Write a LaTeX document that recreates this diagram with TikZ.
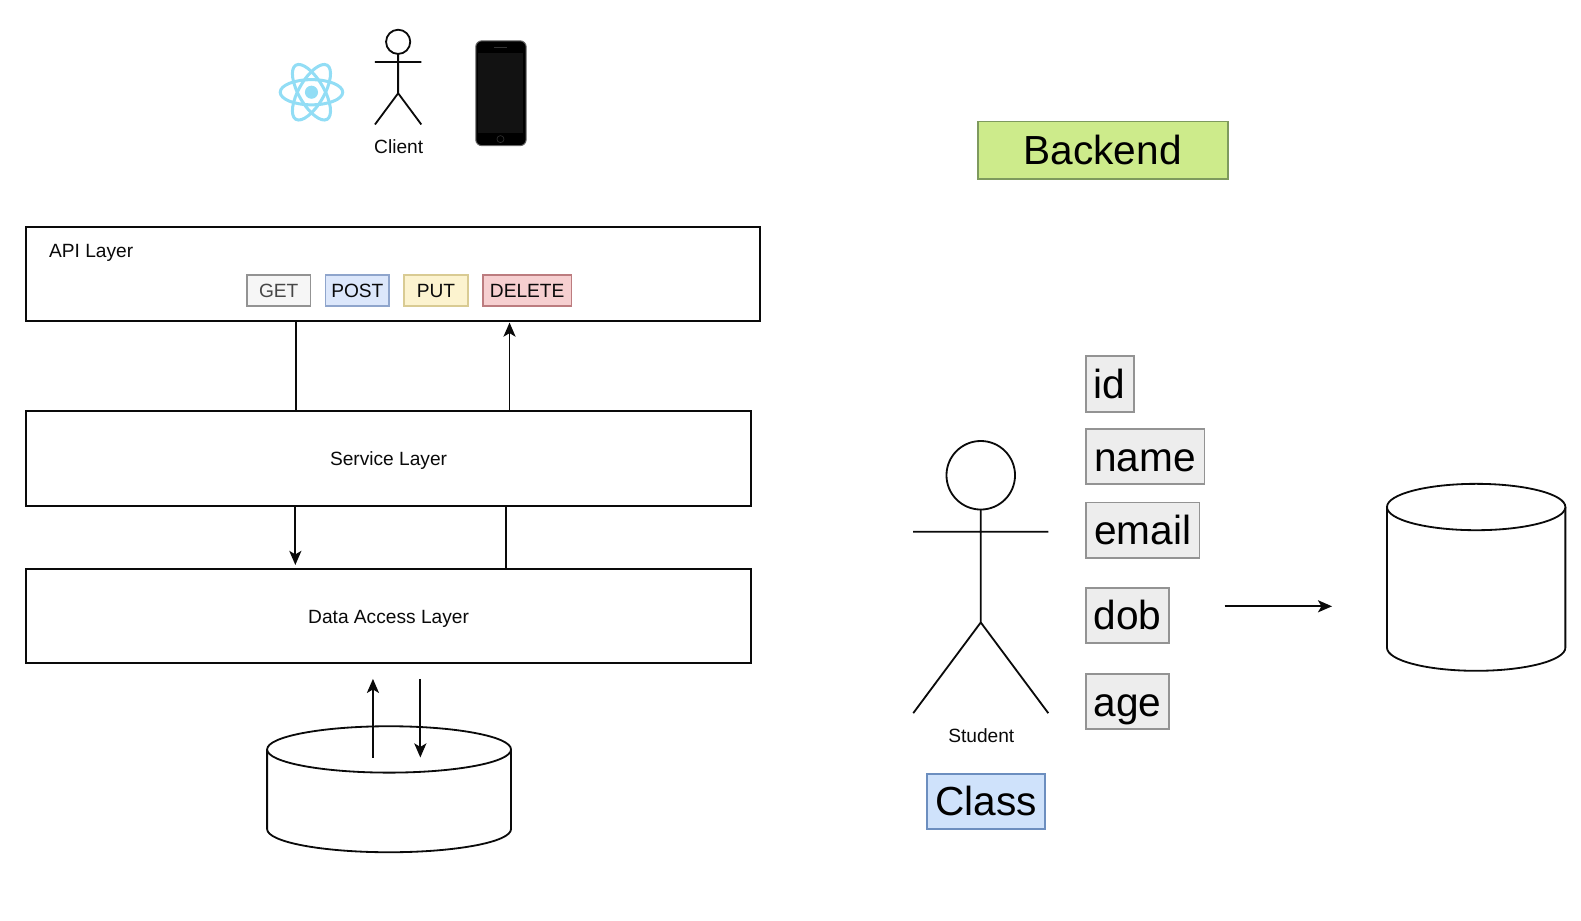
\documentclass[tikz,border=0pt]{standalone}
\usepackage{fontspec}
\setmainfont{Liberation Sans}
\usetikzlibrary{arrows.meta}
\definecolor{inkc}{HTML}{0A0A0A}
\definecolor{postline}{HTML}{8FA5CC}
\definecolor{postfill}{HTML}{DCE7FB}
\definecolor{putline}{HTML}{D9CB93}
\definecolor{putfill}{HTML}{FCF3CF}
\definecolor{delline}{HTML}{BC7C7F}
\definecolor{delfill}{HTML}{F6CFD0}
\definecolor{backline}{HTML}{7E9A5E}
\definecolor{backfill}{HTML}{CDEB8B}
\definecolor{classline}{HTML}{6C8EBF}
\definecolor{classfill}{HTML}{CFE2FB}
\definecolor{reactc}{HTML}{92DDF5}
\tikzset{
  smalltext/.style={font=\fontsize{19}{22}\selectfont,text height=14pt,text depth=0pt},
  layerbox/.style={draw=inkc,line width=1.8pt,fill=white,inner sep=0pt,outer sep=0pt,anchor=north west,smalltext,text=inkc},
  tagbox/.style={draw=#1,line width=1.8pt,inner sep=0pt,outer sep=0pt,anchor=north west,smalltext,text=inkc},
  bigbox/.style={draw=#1,line width=1.8pt,inner sep=0pt,outer sep=0pt,anchor=north west,font=\fontsize{40.3}{46}\selectfont,text height=29pt,text depth=0pt,text=black},
  flow/.style={draw=inkc,line width=1.8pt},
  flowarrow/.style={flow,-{Stealth[length=14pt,width=12pt,inset=3.5pt]}},
  label/.style={smalltext,text=inkc,inner sep=0pt},
  figure/.style={draw=inkc,line width=1.8pt},
}
\begin{document}
\begin{tikzpicture}[x=1pt,y=-1pt]
\useasboundingbox (0,-0.5) rectangle (1568.5,913.2);
% layers
\node[layerbox,minimum width=728pt,minimum height=93pt] (api) at (26,225) {};
\node[label,anchor=west] (apilabel) at (48.5,248) {API Layer};
\node[layerbox,minimum width=719pt,minimum height=94pt] (service) at (26,407.5) {Service Layer};
\node[layerbox,minimum width=719pt,minimum height=93.5pt] (data) at (26,564) {Data Access Layer};
% verbs
\node[tagbox=gray!85,fill=gray!7,text=black!72,minimum width=63pt,minimum height=31pt] (get) at (245,272) {GET};
\node[tagbox=postline,fill=postfill,minimum width=63pt,minimum height=31pt] (post) at (323,272) {POST};
\node[tagbox=putline,fill=putfill,minimum width=63pt,minimum height=31pt] (put) at (401,272) {PUT};
\node[tagbox=delline,fill=delfill,minimum width=88pt,minimum height=31pt] (delete) at (479,272) {DELETE};
% connector ends
\coordinate (a1) at (293.5,318.5);
\coordinate (s1) at (293.5,407.5);
\coordinate (s2) at (505.5,407.5);
\coordinate (a2) at (505.5,319.5);
\coordinate (s3) at (293,501.5);
\coordinate (d3) at (293,560);
\coordinate (s4) at (502,501.5);
\coordinate (d4) at (502,564);
\coordinate (c1) at (370,751);
\coordinate (d1) at (370,673);
\coordinate (d2) at (417,673);
\coordinate (c2) at (417,751);
\coordinate (ra) at (1215,601);
\coordinate (rb) at (1321.5,601);
\draw[flow] (a1) -- (s1);
\draw[flowarrow] (s2) -- (a2);
\draw[flowarrow] (s3) -- (d3);
\draw[flow] (s4) -- (d4);
% left cylinder
\draw[figure,fill=white] (265,743) -- (265,822) arc[start angle=180,end angle=360,x radius=121,y radius=-23] -- (507,743);
\draw[figure,fill=white] (386,743) ellipse[x radius=121,y radius=23];
\draw[flowarrow] (c1) -- (d1);
\draw[flowarrow] (d2) -- (c2);
% right cylinder
\draw[figure,fill=white] (1376,502.5) -- (1376,642) arc[start angle=180,end angle=360,x radius=88.5,y radius=-23] -- (1553,502.5);
\draw[figure,fill=white] (1464.5,502.5) ellipse[x radius=88.5,y radius=23];
\draw[flowarrow] (ra) -- (rb);
% client figure
\draw[figure] (395,41) circle[radius=12];
\draw[figure] (395,53) -- (395,92) (372,61) -- (418,61) (372,123) -- (395,92) -- (418,123);
\node[label] (client) at (395.5,145) {Client};
% react logo
\foreach \a in {0,60,120}{\draw[reactc,line width=3pt,rotate around={\a:(309,91)}] (309,91) ellipse[x radius=31,y radius=12.5];}
\fill[reactc] (309,91) circle[radius=6.5];
% phone
\node[draw=black!60,fill=black,line width=1pt,rounded corners=6pt,minimum width=50pt,minimum height=104pt,inner sep=0pt,anchor=north west] (phone) at (471.5,39.5) {};
\fill[black!93] (474,52) rectangle (519,131);
\draw[black!80,line width=0.6pt] (490,46) -- (503,46);
\draw[black!80,line width=0.6pt] (496.5,137.5) circle[radius=3.5];
% backend
\node[bigbox=backline,fill=backfill,minimum width=248pt,minimum height=57pt] (backend) at (970,120) {Backend};
% student
\draw[figure] (973,471) circle[radius=34];
\draw[figure] (973,505) -- (973,617) (906,527) -- (1040,527) (906,707) -- (973,617) -- (1040,707);
\node[label] (student) at (973.5,729) {Student};
\node[bigbox=classline,fill=classfill,minimum width=117pt,minimum height=55pt] (class) at (920,767) {Class};
% attributes
\tikzset{attr/.style={bigbox=gray!85,fill=black!7,minimum height=55pt}}
\node[attr,minimum width=48pt] (id) at (1077,353) {id};
\node[attr,minimum width=118pt] (name) at (1077,425) {name};
\node[attr,minimum width=113pt] (email) at (1077,498) {email};
\node[attr,minimum width=83pt] (dob) at (1077,582.5) {dob};
\node[attr,minimum width=83pt] (age) at (1077,668) {age};
\end{tikzpicture}
\end{document}
